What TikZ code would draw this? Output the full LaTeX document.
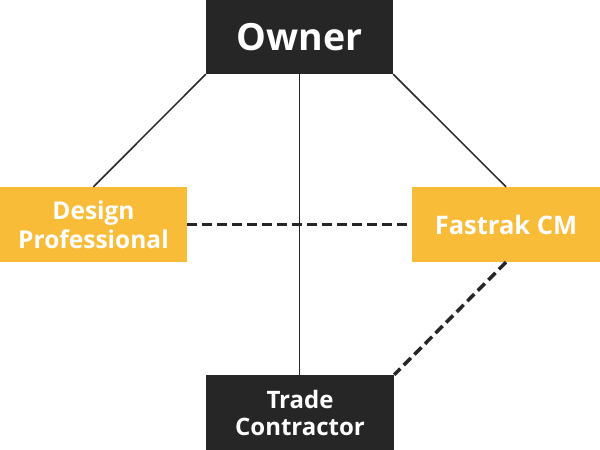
\documentclass[tikz,border=0pt]{standalone}
\usepackage{fontspec}
\setmainfont{Open Sans}
\usepackage{tikz}
\usetikzlibrary{positioning}
\definecolor{boxdark}{HTML}{262626}
\definecolor{boxgold}{HTML}{F9BC38}
\tikzstyle{party} = [rectangle, inner sep=0pt, minimum width=187pt,
                     minimum height=75pt, text=white, align=center]
\tikzstyle{dark}  = [party, fill=boxdark]
\tikzstyle{gold}  = [party, fill=boxgold]
\tikzstyle{link}  = [draw=boxdark, line width=1.5pt]
\tikzstyle{rel}   = [draw=boxdark, line width=3.5pt, dash pattern=on 10pt off 5pt]

\begin{document}
\begin{tikzpicture}[x=1pt, y=-1pt]
		\useasboundingbox (0,0) rectangle (600,450);
		\node[dark, minimum height=74pt, font=\bfseries\fontsize{37.5}{42}\selectfont] (owner) at (299.5,37) {Owner};
		\node[gold, font=\bfseries\fontsize{24.5}{29}\selectfont] (design) at (93.5,224.5) {Design\\Professional};
		\node[gold, minimum width=188pt, font=\bfseries\fontsize{25.5}{30}\selectfont] (cm) at (506,224.5) {Fastrak CM};
		\node[dark, minimum width=188pt, font=\bfseries\fontsize{24}{27}\selectfont] (trade) at (300,412.5) {Trade\\Contractor};

		\draw[link] (owner.south west) -- (design.north);
		\draw[link] (owner.south) -- (owner.south |- trade.north);
		\draw[link] (owner.south east) -- (cm.north);

		\draw[rel] (design.east) -- (cm.west);
		\draw[rel] (cm.south) -- (trade.north east);
	\end{tikzpicture}
\end{document}
